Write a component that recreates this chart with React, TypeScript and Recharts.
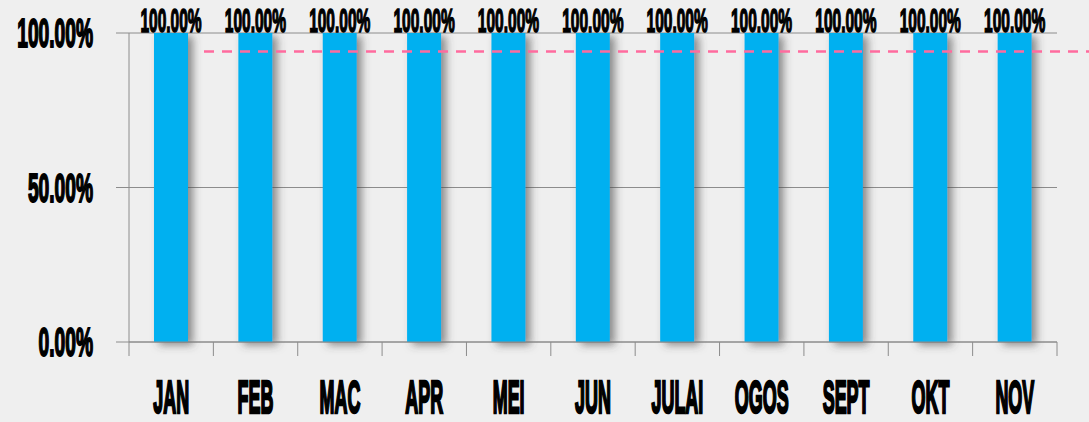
import {
  Bar,
  BarChart,
  CartesianGrid,
  LabelList,
  ReferenceLine,
  XAxis,
  YAxis,
} from "recharts";

const MONTHS = ["JAN", "FEB", "MAC", "APR", "MEI", "JUN", "JULAI", "OGOS", "SEPT", "OKT", "NOV"];
const ACHIEVED = [100, 100, 100, 100, 100, 100, 100, 100, 100, 100, 100];
const TARGET = 94;
const Y_TICKS = [0, 50, 100];
const BOUNDARY_TICKS = [0, 1, 2, 3, 4, 5, 6, 7, 8, 9, 10, 11];

const data = MONTHS.map((month, index) => ({ month, pos: index + 0.5, value: ACHIEVED[index] }));

const FONT = "'Liberation Sans', Arial, sans-serif";
const AXIS = "#8c8c8c";

const pct = (v: number) => `${v.toFixed(2)}%`;

function YTick({ x, y, payload }: any) {
  return (
    <text
      transform={`translate(${x - 21},${y + 14}) scale(0.48,1)`}
      textAnchor="end"
      fontFamily={FONT}
      fontWeight="bold"
      fontSize={40}
      fill="#000"
      stroke="#000"
      strokeWidth={2}
    >
      {pct(payload.value)}
    </text>
  );
}

function MonthTick({ x, y, payload }: any) {
  return (
    <text
      transform={`translate(${x},${y + 57}) scale(0.39,1)`}
      textAnchor="middle"
      fontFamily={FONT}
      fontWeight="bold"
      fontSize={46}
      fill="#000"
      stroke="#000"
      strokeWidth={2.6}
    >
      {payload.value}
    </text>
  );
}

function BarValue({ x, y, width, value }: any) {
  return (
    <text
      transform={`translate(${x + width / 2},${y - 1}) scale(0.47,1)`}
      textAnchor="middle"
      fontFamily={FONT}
      fontWeight="bold"
      fontSize={33}
      fill="#000"
      stroke="#000"
      strokeWidth={1.6}
    >
      {pct(value)}
    </text>
  );
}

function NoLabel() {
  return <g />;
}

function TargetLine({ x1, y1, x2 }: any) {
  return (
    <line
      x1={x1 + 75}
      y1={y1}
      x2={x2 + 32}
      y2={y1}
      stroke="#ff6b9e"
      strokeWidth={2.5}
      strokeDasharray="10 8"
    />
  );
}

export default function App() {
  return (
    <div style={{ width: 1089, height: 422, background: "#efefef" }}>
      <style>{`body{margin:0;background:#efefef}`}</style>
      <BarChart
        width={1089}
        height={422}
        data={data}
        margin={{ top: 33, right: 32, bottom: 0, left: 0 }}
        barCategoryGap="30%"
      >
        <defs>
          <filter id="barShadow" x="-30%" y="-10%" width="190%" height="130%">
            <feDropShadow dx={5} dy={3} stdDeviation={4} floodColor="#444" floodOpacity={0.6} />
          </filter>
        </defs>
        <CartesianGrid xAxisId="months" horizontal vertical={false} stroke={AXIS} strokeWidth={1} />
        <XAxis
          xAxisId="axisA"
          type="number"
          dataKey="pos"
          domain={[0, 11]}
          ticks={BOUNDARY_TICKS}
          interval={0}
          tick={<NoLabel />}
          tickSize={14}
          height={14}
          axisLine={{ stroke: AXIS }}
          stroke={AXIS}
        />
        <XAxis
          xAxisId="months"
          dataKey="month"
          height={66}
          tickSize={0}
          tickMargin={0}
          tickLine={false}
          axisLine={false}
          tick={<MonthTick />}
          interval={0}
        />
        <YAxis
          width={129}
          domain={[0, 100]}
          ticks={Y_TICKS}
          tickSize={13}
          stroke={AXIS}
          tick={<YTick />}
        />
        <ReferenceLine xAxisId="months" y={TARGET} shape={<TargetLine />} />
        <Bar
          xAxisId="months"
          dataKey="value"
          fill="#00b0f0"
          barSize={34}
          filter="url(#barShadow)"
          isAnimationActive={false}
        >
          <LabelList dataKey="value" content={<BarValue />} />
        </Bar>
      </BarChart>
    </div>
  );
}
